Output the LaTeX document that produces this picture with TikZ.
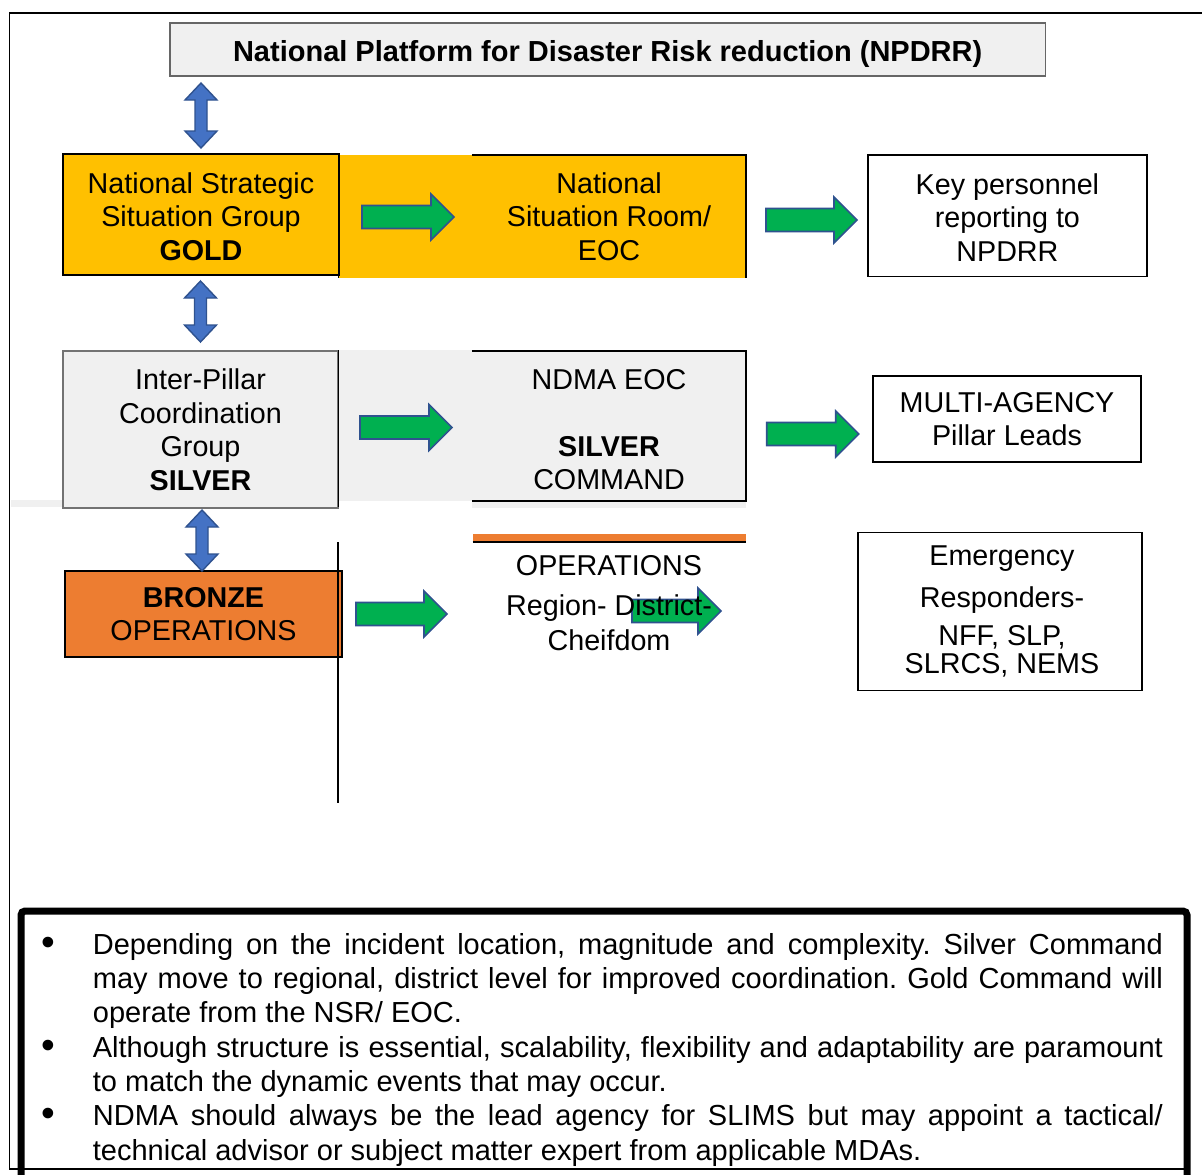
\documentclass[tikz,border=0pt]{standalone}
\usepackage{fontspec}
\usepackage{graphicx}
\setmainfont{Liberation Sans}
\definecolor{goldfill}{HTML}{FFC000}
\definecolor{bronzefill}{HTML}{ED7D31}
\definecolor{silverfill}{HTML}{F0F0F0}
\definecolor{bluearrow}{HTML}{4472C4}
\definecolor{arrowedge}{HTML}{2F528F}
\definecolor{greenarrow}{HTML}{00B050}
\newcommand\notebullet{\leavevmode\llap{\raisebox{-1.2pt}{\scalebox{1.35}{\textbullet}}\hspace{38pt}}}
\tikzset{
  lbl/.style={font=\fontsize{28.7}{33.5}\selectfont, align=center, inner sep=0pt},
  thinbox/.style={draw=black, line width=1.3pt},
  pics/garrow/.style={code={
    \draw[line width=1.6pt, draw=arrowedge, fill=greenarrow, line join=miter]
      (0,-11.5) -- (#1-23,-11.5) -- (#1-23,-23) -- (#1,0) -- (#1-23,23) -- (#1-23,11.5) -- (0,11.5) -- cycle;}},
  pics/barrow/.style={code={
    \draw[line width=1.4pt, draw=arrowedge, fill=bluearrow, line join=miter]
      (0,-#1) -- (16,-#1+17) -- (6,-#1+17) -- (6,#1-17) -- (16,#1-17) -- (0,#1)
      -- (-16,#1-17) -- (-6,#1-17) -- (-6,-#1+17) -- (-16,-#1+17) -- cycle;}}
}
\begin{document}
\begin{tikzpicture}[x=1pt,y=-1pt]
\useasboundingbox (0,0) rectangle (1202,1175);
\fill[white] (0,0) rectangle (1202,1175);

% outer frame
\draw[line width=1.8pt] (1204,13) -- (9.5,13) -- (9.5,1169) -- (1187,1169);

% background bands
\fill[goldfill] (338,155) rectangle (746,278);
\fill[silverfill] (338,350) rectangle (746,501);
\fill[silverfill] (10.5,500) rectangle (63,507);
\fill[silverfill] (472,501) rectangle (746,508);

% title
\node[thinbox, draw=black!60, fill=silverfill, minimum width=875.5pt, minimum height=53pt] (title) at (607.7,49.5) {};
\node[font=\fontsize{29}{33}\selectfont\bfseries, inner sep=0pt] (titletext) at (607.7,54)
  {National Platform for Disaster Risk reduction (NPDRR)};

% GOLD row
\node[thinbox, fill=goldfill, minimum width=276pt, minimum height=121pt] (gold) at (201,214.5) {};
\node[lbl] (goldtext) at (201,216.5) {National Strategic\\Situation Group\\\textbf{GOLD}};
\draw[line width=1.8pt] (338.5,155) -- (338.5,278);
\node[lbl, minimum width=274pt, minimum height=123pt] (nsr) at (609,216.5)
  {National\\Situation Room/\\EOC};
\draw[line width=2pt] (nsr.north west) -- (nsr.north east) -- (nsr.south east);
\node[thinbox, fill=white, minimum width=279pt, minimum height=121.5pt] (key) at (1007.4,215.8) {};
\node[lbl] (keytext) at (1007.4,217.3) {Key personnel\\reporting to\\NPDRR};

% SILVER row
\node[thinbox, draw=black!55, fill=silverfill, lbl, minimum width=275pt, minimum height=157pt] (silver) at (200.5,429.5)
  {Inter-Pillar\\Coordination\\Group\\\textbf{SILVER}};
\draw[line width=1.8pt] (338.5,350) -- (338.5,507);
\node[minimum width=274pt, minimum height=150pt] (ndma) at (609,426) {};
\node[lbl] (ndmatext) at (609,429.5) {NDMA EOC\\~\\\textbf{SILVER}\\COMMAND};
\draw[line width=2pt] (ndma.north west) -- (ndma.north east) -- (ndma.south east) -- (ndma.south west);
\node[thinbox, fill=white, lbl, minimum width=268pt, minimum height=86pt] (multi) at (1007,419)
  {MULTI-AGENCY\\Pillar Leads};

% BRONZE row
\node[thinbox, fill=bronzefill, lbl, minimum width=277pt, minimum height=86pt] (bronze) at (203.5,614)
  {\textbf{BRONZE}\\OPERATIONS};
\draw[line width=1.5pt] (338,542) -- (338,803);
\fill[bronzefill] (472.5,534) rectangle (746,541);
\draw[line width=1.8pt] (472.5,542) -- (746,542);
\node[thinbox, fill=white, minimum width=284pt, minimum height=158.5pt] (emerg) at (1000,611.5) {};
\node[lbl] (emergtext) at (1002,611)
  {Emergency\\[8.5pt]Responders-\\[4.5pt]NFF, SLP,\\[-5.5pt]SLRCS, NEMS};

% block arrows
\pic at (201,115.5) {barrow=32.5};
\pic at (200.5,311.5) {barrow=30.5};
\pic at (202,540.5) {barrow=30.5};
\pic at (362,217) {garrow=92};
\pic at (766,220) {garrow=91};
\pic at (360,427.5) {garrow=92};
\pic at (766.7,434) {garrow=92};
\pic at (356,614) {garrow=91};
\pic at (632,611) {garrow=89};

\node[lbl] (ops) at (609,603)
  {OPERATIONS\\[6.5pt]Region- District-\\[1.5pt]Cheifdom};

% notes box
\draw[line width=7pt, rounded corners=4pt] (21,1195) -- (21,911) -- (1187,911) -- (1187,1195);
\node[anchor=north west, inner sep=0pt] (notes) at (92.7,933)
  {\begin{minipage}{1070pt}\fontsize{29}{34.3}\selectfont\tolerance=9999\frenchspacing
   \notebullet Depending on the incident location, magnitude and complexity. Silver Command\linebreak
   may move to regional, district level for improved coordination. Gold Command will\linebreak
   operate from the NSR/ EOC.\par
   \notebullet Although structure is essential, scalability, flexibility and adaptability are paramount\linebreak
   to match the dynamic events that may occur.\par
   \notebullet NDMA should always be the lead agency for SLIMS but may appoint a tactical/\linebreak
   technical advisor or subject matter expert from applicable MDAs.\par
   \end{minipage}};
\end{tikzpicture}
\end{document}
